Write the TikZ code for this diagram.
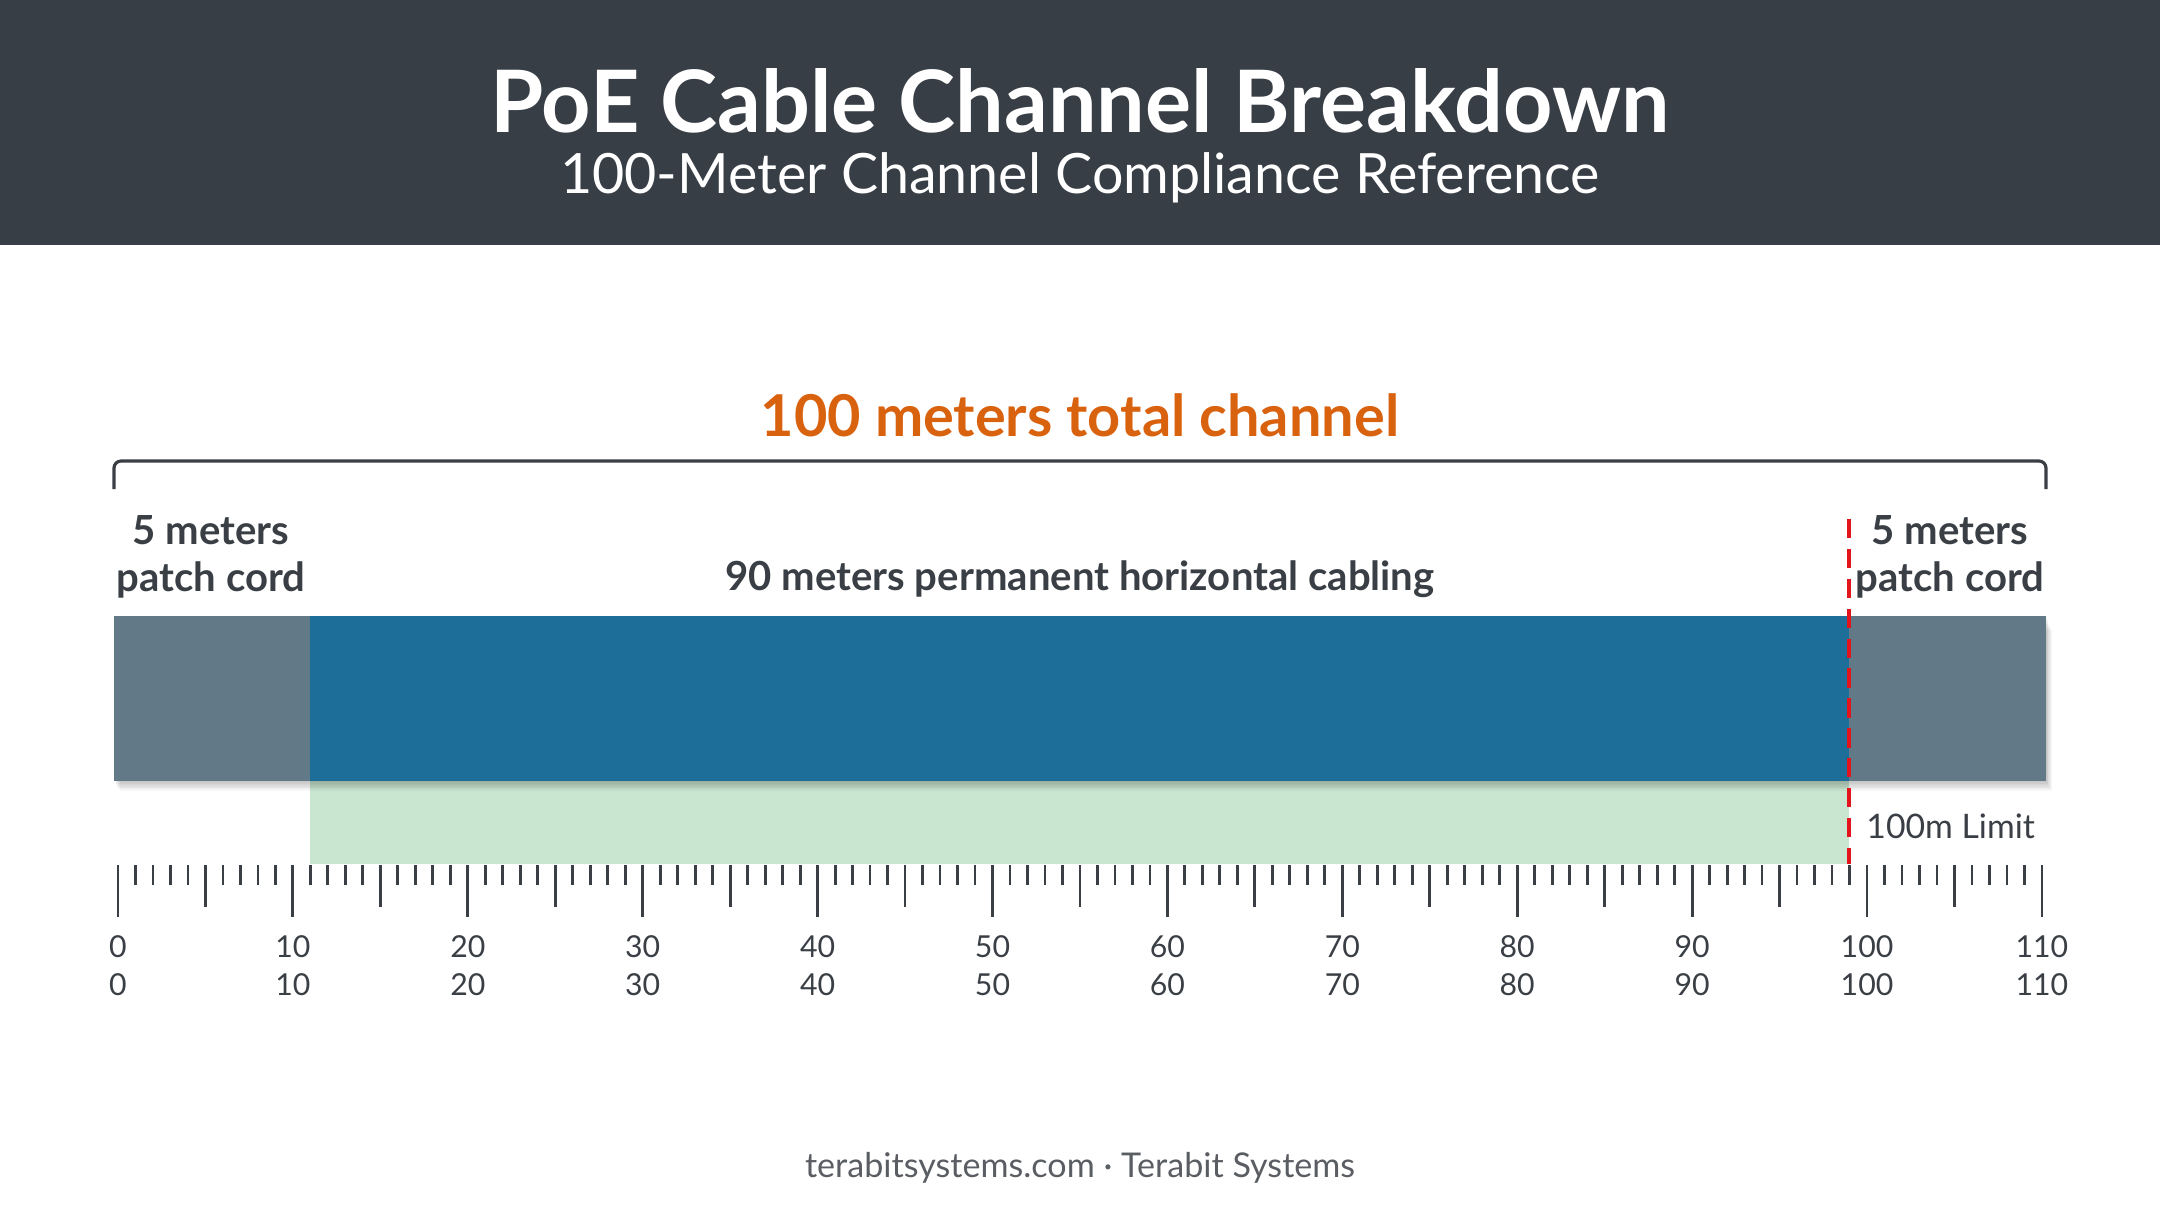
\documentclass[tikz,border=0pt]{standalone}
\usepackage{fontspec}
\setmainfont{Lato}
\usepackage{xcolor}
\usepackage{tikz}
\usetikzlibrary{calc}
\definecolor{headbg}{HTML}{383E46}
\definecolor{inkdark}{HTML}{3A3F45}
\definecolor{accent}{HTML}{D9620F}
\definecolor{patchgray}{HTML}{627A87}
\definecolor{permblue}{HTML}{1D6F99}
\definecolor{okgreen}{HTML}{C9E6D1}
\definecolor{limitred}{HTML}{E3141B}
\definecolor{footgray}{HTML}{5A5E63}
\tikzset{
    title/.style={text=white, font=\bfseries\fontsize{24.5}{29}\selectfont},
    subtitle/.style={text=white, font=\fontsize{15.8}{19}\selectfont},
    headline/.style={text=accent, font=\bfseries\fontsize{16.4}{19}\selectfont},
    seglabel/.style={text=inkdark, font=\bfseries\fontsize{11.4}{13.4}\selectfont, align=center},
    scalelabel/.style={text=inkdark, font=\fontsize{8.6}{10}\selectfont},
    tick/.style={draw=inkdark, line width=0.8pt},
    bracket/.style={draw=inkdark, line width=0.9pt, rounded corners=2pt},
    limit/.style={draw=limitred, line width=1.2pt, dash pattern=on 5.5pt off 3pt}
}

\begin{document}
\begin{tikzpicture}[x=0.01cm, y=-0.01cm]
    \useasboundingbox (0,0) rectangle (2160,1206);

    % Header
    \fill[headbg] (0,0) rectangle (2160,245);
    \node[title] (ttl) at (1080,101) {PoE Cable Channel Breakdown};
    \node[subtitle] (sub) at (1080,178) {100-Meter Channel Compliance Reference};

    % Total channel bracket
    \node[headline] (total) at (1080,415) {100 meters total channel};
    \draw[bracket] (114,489) -- (114,461) -- (2046,461) -- (2046,489);

    % Segment labels
    \node[seglabel] (leftlbl) at (211,557) {5 meters\\patch cord};
    \node[seglabel] (midlbl) at (1080,579) {90 meters permanent horizontal cabling};
    \node[seglabel] (rightlbl) at (1950,557) {5 meters\\patch cord};

    % Compliant zone
    \fill[okgreen] (310,781) rectangle (1849,864);

    % Soft shadow under the bar
    \foreach \s in {2,4,...,14}
        \fill[black, opacity=0.035] (114+\s*0.4,616+\s) rectangle (2046+\s*0.4,781+\s*0.7);

    % Cable bar
    \fill[patchgray] (114,616) rectangle (310,781);
    \fill[permblue] (310,616) rectangle (1849,781);
    \fill[patchgray] (1849,616) rectangle (2046,781);

    % 100m limit
    \coordinate (limtop) at (1849,519);
    \coordinate (limbot) at (1849,864);
    \draw[limit] (limtop) -- (limbot);
    \node[scalelabel, anchor=west, font=\fontsize{9.6}{11}\selectfont] (limlbl) at (1854,826) {100m Limit};

    % Ruler
    \foreach \m in {0,...,110} {
        \pgfmathsetmacro{\tx}{118+\m*17.49}
        \pgfmathsetmacro{\tl}{mod(\m,10)==0 ? 917 : (mod(\m,5)==0 ? 907 : 885)}
        \draw[tick] (\tx,865) -- (\tx,\tl);
    }
    \foreach \v in {0,10,...,110} {
        \node[scalelabel] (a\v) at (118+\v*17.49,947) {\v};
        \node[scalelabel] (b\v) at (118+\v*17.49,985) {\v};
    }

    % Footer
    \node[text=footgray, font=\fontsize{9.7}{11}\selectfont] (foot) at (1080,1168) {terabitsystems.com · Terabit Systems};
\end{tikzpicture}
\end{document}
